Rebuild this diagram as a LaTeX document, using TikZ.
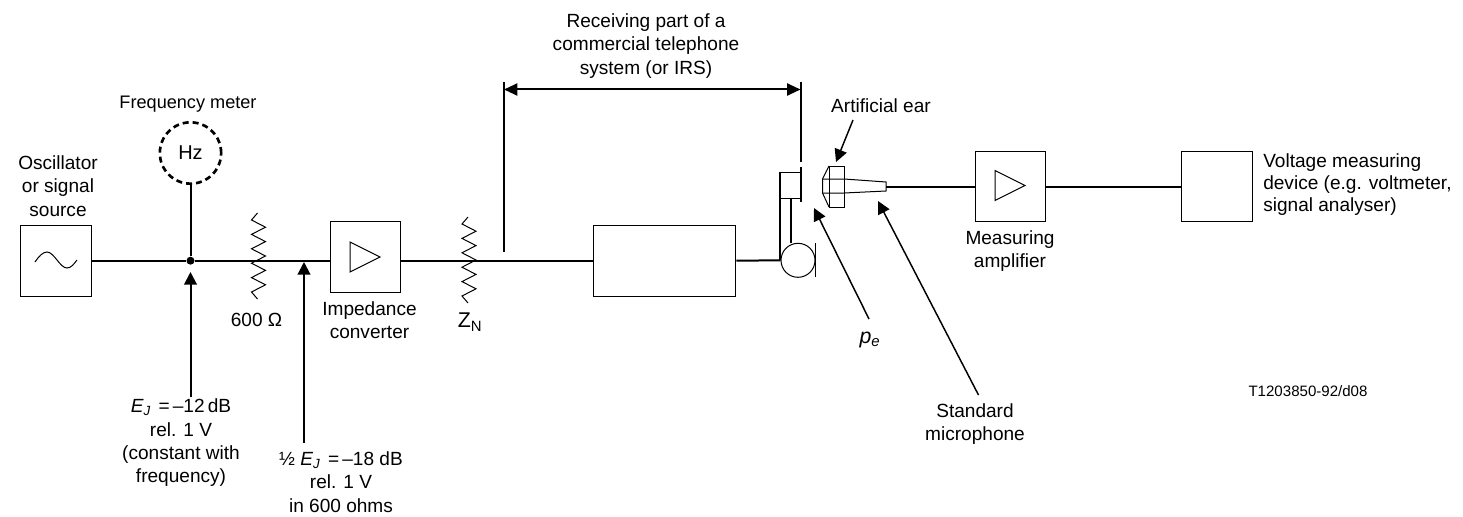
\documentclass[tikz,border=0pt]{standalone}
\usepackage{fontspec}
\setmainfont{Liberation Sans}
\usetikzlibrary{arrows.meta}
\tikzset{
  wire/.style={line width=1.5pt},
  thinline/.style={line width=0.75pt},
  block/.style={draw,line width=0.75pt,minimum width=53pt,minimum height=53pt,inner sep=0pt},
  lbl/.style={inner sep=0pt,align=center,font=\fontsize{14.3}{17.5}\selectfont},
  pointer/.style={line width=1.1pt,-{Triangle[length=9.5pt,width=9.5pt]}},
  resistor/.pic={
    \draw [line width=0.75pt] (-1,-43) -- (-7,-36) -- (7,-28.8) -- (-7,-21.6) -- (7,-14.4) -- (-7,-7.2) -- (7,0)
      -- (-7,7.2) -- (7,14.4) -- (-7,21.6) -- (7,28.8) -- (-7,36) -- (-1,43);
  },
  amptri/.pic={
    \draw [line width=0.75pt] (-15,-15) -- (15,0) -- (-15,15) -- cycle;
  }
}
\begin{document}
\begin{tikzpicture}[x=0.75pt,y=0.75pt,yscale=-1,xscale=1]
\useasboundingbox (0,0) rectangle (1463,517);

%Blocks
\node (source) [block] at (56,260.7) {};
\node (impconv) [block] at (365.5,257) {};
\node (phone) [block,minimum width=107pt] at (664.5,260.7) {};
\node (measamp) [block] at (1010.5,186.5) {};
\node (voltdev) [block] at (1217,186.5) {};
\node (hzmeter) [draw,circle,dashed,line width=2pt,dash pattern=on 4.5pt off 3pt,minimum size=46pt,inner sep=0pt,font=\fontsize{15}{17.5}\selectfont] at (190.5,153) {Hz};
\node (joint) [circle,fill,minimum size=6pt,inner sep=0pt] at (190.5,260.7) {};
\node (recv) [draw,line width=0.75pt,minimum width=15.5pt,minimum height=20pt,inner sep=0pt] at (790.5,185.5) {};
\node (mic) [draw,circle,line width=0.75pt,minimum size=25.5pt,inner sep=0pt] at (798,260.3) {};

%Free ends
\coordinate (earend) at (886,186.5);
\coordinate (leftdrop) at (504,252);
\coordinate (lefttop) at (504,82);
\coordinate (rightdrop) at (800.5,162);
\coordinate (righttop) at (800.5,82);
\coordinate (spanleft) at (504,89.5);
\coordinate (spanright) at (800.5,89.5);
\coordinate (ejend) at (190.5,397);
\coordinate (ejtip) at (190.5,272);
\coordinate (halfend) at (304,443);
\coordinate (halftip) at (304,262);
\coordinate (artstart) at (853,120);
\coordinate (arttip) at (836,162);
\coordinate (pestart) at (869,319);
\coordinate (petip) at (814,208);
\coordinate (stdstart) at (978.5,395);
\coordinate (stdtip) at (878,201);

%Straight Lines
\draw [wire] (source.east |- joint) -- (joint);
\draw [wire] (joint) -- (joint -| impconv.west);
\draw [wire] (joint -| impconv.east) -- (joint -| phone.west);
\draw [wire] (phone.east) -- (mic.west);
\draw [wire] (hzmeter.south) -- (joint);
\draw [wire] (earend) -- (measamp.west);
\draw [wire] (measamp.east) -- (voltdev.west);
\draw [wire] (lefttop) -- (leftdrop);
\draw [wire] (righttop) -- (rightdrop);
\draw [wire,{Triangle[length=10pt,width=9pt]}-{Triangle[length=10pt,width=9pt]}] (spanleft) -- (spanright);

%Receiver
\draw [wire] (recv.north west) -- (recv.north west |- mic.west);
\draw [wire] (recv.south) -- (recv.south |- mic.north);
\draw [wire] (801,167) -- (801,202);
\draw [thinline] (815,243) -- (815,277);

%Artificial ear
\draw [thinline] (829,166) rectangle (844,207);
\draw [thinline] (829,166) -- (822.5,179) -- (822.5,193) -- (829,207);
\draw [thinline] (822.5,179) -- (844,179) -- (886,182) -- (886,191) -- (844,193) -- (822.5,193);

%Resistors and amplifier signs
\draw (258.5,256) pic {resistor};
\draw (469,260) pic {resistor};
\draw (365,257) pic {amptri};
\draw (1010,185.5) pic {amptri};

%Sine
\draw [thinline] (35,262) .. controls (39,256) and (43,252) .. (47,252) .. controls (54,252) and (60,268) .. (67,268) .. controls (71,268) and (74,264) .. (77,260);

%Arrows
\draw [pointer,line width=1.5pt] (ejend) -- (ejtip);
\draw [pointer,line width=1.5pt] (halfend) -- (halftip);
\draw [pointer] (artstart) -- (arttip);
\draw [pointer] (pestart) -- (petip);
\draw [pointer] (stdstart) -- (stdtip);

% Text Node
\node (freqlbl) [lbl,font=\fontsize{13.6}{17.5}\selectfont] at (188,104) {Frequency meter};
% Text Node
\node (osclbl) [lbl] at (58,186) {Oscillator\\or signal\\source};
% Text Node
\node (ohmlbl) [lbl] at (256.5,320) {600 Ω};
% Text Node
\node (implbl) [lbl] at (369.5,320.5) {Impedance\\converter};
% Text Node
\node (znlbl) [lbl,font=\fontsize{16}{18}\selectfont] at (470,322) {Z\textsubscript{N}};
% Text Node
\node (reclbl) [lbl] at (646,46) {Receiving part of a\\commercial telephone\\system (or IRS)};
% Text Node
\node (artlbl) [lbl] at (881,106) {Artificial ear};
% Text Node
\node (voltlbl) [lbl,anchor=west,align=left,font=\fontsize{14.3}{16.5}\selectfont] at (1263,185) {Voltage measuring\\device (e.g. voltmeter,\\signal analyser)};
% Text Node
\node (measlbl) [lbl] at (1010,251) {Measuring\\amplifier};
% Text Node
\node (pelbl) [lbl,font=\fontsize{16}{18}\selectfont] at (870,340) {\textit{p\textsubscript{e}}};
% Text Node
\node (codelbl) [lbl,font=\fontsize{11.3}{14}\selectfont] at (1308,391) {T1203850-92/d08};
% Text Node
\node (stdlbl) [lbl] at (975,424) {Standard\\microphone};
% Text Node
\node (ejlbl) [lbl] at (181,443) {\textit{E\textsubscript{J}}\hspace{0.4em}=\,–12\,dB\\rel. 1 V\\(constant with\\frequency)};
% Text Node
\node (halflbl) [lbl] at (341,482) {½ \textit{E\textsubscript{J}}\hspace{0.4em}=\,–18 dB\\rel. 1 V\\in 600 ohms};

\end{tikzpicture}
\end{document}
